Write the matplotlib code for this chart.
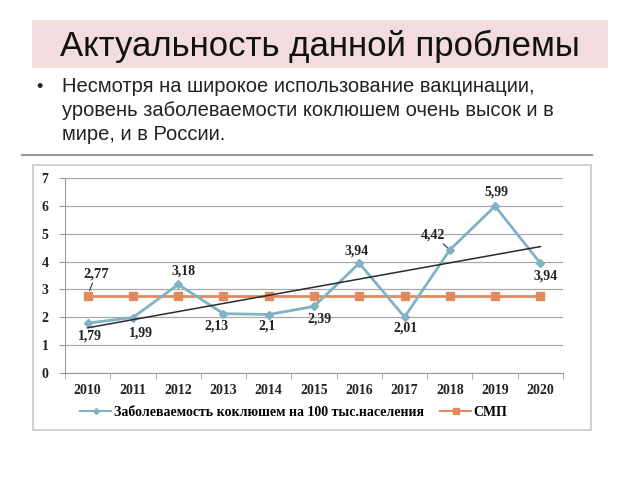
import matplotlib
matplotlib.use("Agg")
import matplotlib.pyplot as plt
import numpy as np
from matplotlib.patches import Rectangle
from matplotlib.lines import Line2D

years = ["2010", "2011", "2012", "2013", "2014", "2015", "2016", "2017", "2018", "2019", "2020"]
incidence = [1.79, 1.99, 3.18, 2.13, 2.1, 2.39, 3.94, 2.01, 4.42, 5.99, 3.94]
smp = [2.77] * 11
inc_labels = ["1,79", "1,99", "3,18", "2,13", "2,1", "2,39", "3,94", "2,01", "4,42", "5,99", "3,94"]
smp_label = "2,77"
series_names = ["Заболеваемость коклюшем на 100 тыс.населения", "СМП"]
title = "Актуальность данной проблемы"
bullet_lines = ["Несмотря на широкое использование вакцинации,",
                "уровень заболеваемости коклюшем очень высок и в",
                "мире, и в России."]

W, H = 640, 480
fig = plt.figure(figsize=(6.4, 4.8), dpi=100)
fig.patch.set_facecolor("white")

def fx(px):
    return px / W

def fy(py):
    return 1 - py / H

sans = ["Liberation Sans", "DejaVu Sans"]
serif = ["Liberation Serif", "DejaVu Serif"]

# Title band
fig.patches.append(Rectangle((fx(32), fy(68)), fx(608) - fx(32), fy(20) - fy(68),
                             transform=fig.transFigure, facecolor="#f2dcdd", edgecolor="none", zorder=-2))
fig.text(fx(320), fy(46), title, ha="center", va="center", fontsize=25, family=sans, color="#111111")

# Bullet text
fig.text(fx(36), fy(88), "•", ha="left", va="center", fontsize=13, family=sans, color="#222222")
for i, line in enumerate(bullet_lines):
    fig.text(fx(62), fy(87 + 24 * i), line, ha="left", va="center", fontsize=14.5, family=sans,
             color="#222222")

# Rule
fig.add_artist(Line2D([fx(22), fx(592)], [fy(155), fy(155)], transform=fig.transFigure,
                      color="#999999", lw=1.5))

# Chart box
fig.patches.append(Rectangle((fx(33), fy(430)), fx(591) - fx(33), fy(165) - fy(430),
                             transform=fig.transFigure, facecolor="white", edgecolor="#c8c8c8", lw=1.2, zorder=-1))

ax = fig.add_axes([fx(65), fy(373), fx(563) - fx(65), fy(178) - fy(373)])
ax.patch.set_alpha(0)
x = np.arange(len(years))
ax.set_xlim(-0.5, len(years) - 0.5)
ax.set_ylim(0, 7)
ax.set_yticks(range(0, 8))
ax.grid(axis="y", color="#a8a8a8", lw=0.9)
ax.set_axisbelow(True)
for s in ["top", "right"]:
    ax.spines[s].set_visible(False)
ax.spines["left"].set_color("#999999")
ax.spines["bottom"].set_color("#999999")
ax.set_xticks(x)
ax.set_xticklabels(years)
ax.set_xticks(np.arange(-0.5, len(years), 1), minor=True)
ax.tick_params(axis="x", which="major", length=0, pad=8)
ax.tick_params(axis="x", which="minor", length=4, color="#999999")
ax.tick_params(axis="y", length=4, color="#999999", pad=8)
for lab in ax.get_xticklabels() + ax.get_yticklabels():
    lab.set_family(serif)
    lab.set_fontweight("bold")
    lab.set_fontsize(10)
    lab.set_color("#222222")

blue = "#7fb2c2"
orange = "#e08a5e"
ax.plot(x, smp, color=orange, lw=2, marker="s", ms=6, zorder=3)
ax.plot(x, incidence, color=blue, lw=2, marker="D", ms=4, zorder=4)
coef = np.polyfit(x, incidence, 1)
ax.plot(x, np.polyval(coef, x), color="#2a2a2a", lw=1.1, zorder=5)

# data labels (offsets in points)
offsets = [(2, -9), (6, -11), (4, 10), (-5, -9), (-1, -8), (4, -9),
           (-2, 9), (1, -8), (-12, 11), (1, 10), (4, -9)]
leaders = [False, False, False, False, False, False, False, False, True, False, False]
for xi, yi, lab, off, ld in zip(x, incidence, inc_labels, offsets, leaders):
    kw = {}
    if ld:
        kw["arrowprops"] = dict(arrowstyle="-", color="#333333", lw=0.8, shrinkA=0, shrinkB=2)
    ax.annotate(lab, (xi, yi), xytext=off, textcoords="offset points", ha="center", va="center",
                family=serif, fontsize=10, fontweight="bold", color="#222222", zorder=6, **kw)
ax.annotate(smp_label, (0, smp[0]), xytext=(6, 16), textcoords="offset points", ha="center", va="center",
            family=serif, fontsize=10.5, fontweight="bold", color="#222222",
            arrowprops=dict(arrowstyle="-", color="#333333", lw=0.8, shrinkA=0, shrinkB=4))

legend_handles = [Line2D([], [], color=blue, lw=1.5, marker="D", ms=3),
                  Line2D([], [], color=orange, lw=1.5, marker="s", ms=4)]
leg = fig.legend(legend_handles, series_names, loc="center", bbox_to_anchor=(fx(294), fy(412)),
                 ncol=2, frameon=False, prop={"family": serif, "weight": "bold", "size": 10},
                 columnspacing=1.2, handlelength=2.2, handletextpad=0.2)
plt.savefig("out.png", dpi=100)
